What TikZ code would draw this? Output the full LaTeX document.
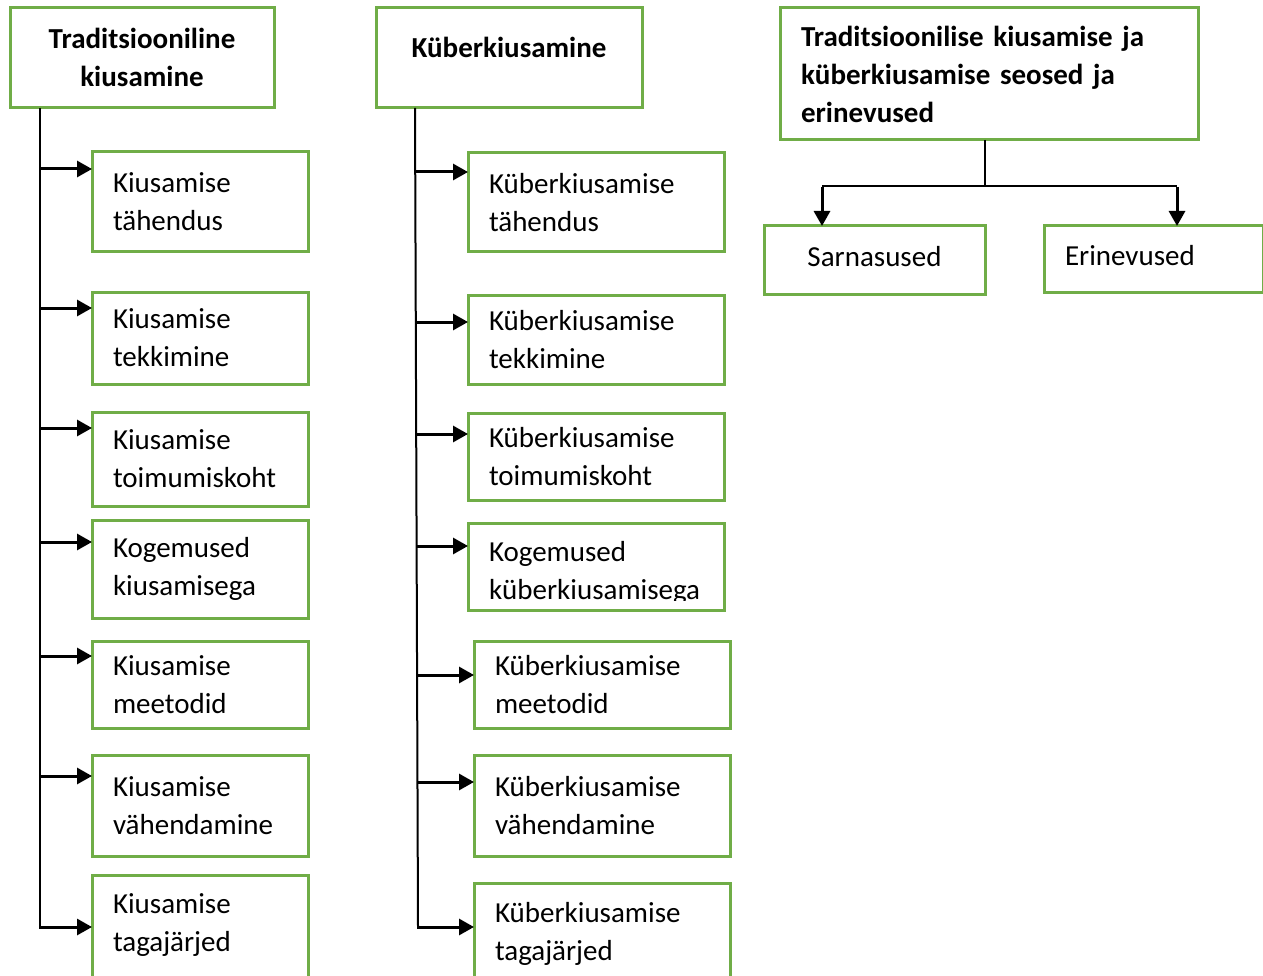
\documentclass[tikz,border=0pt]{standalone}
\usepackage{fontspec}
\setmainfont{Carlito}
\usetikzlibrary{arrows.meta}
\definecolor{boxgreen}{HTML}{70AD47}
\tikzset{
  box/.style={draw=boxgreen, line width=3pt, rectangle, inner ysep=0pt, inner xsep=21pt, outer sep=0pt,
    font=\fontsize{29}{38}\selectfont, align=left, anchor=north west},
  titlebox/.style={box, font=\bfseries\fontsize{29}{38}\selectfont},
  trunk/.style={line width=2pt, draw=black},
  arr/.style={line width=3pt, -{Triangle[length=15pt,width=16pt]}},
  darr/.style={line width=3pt, -{Triangle[length=15pt,width=16pt]}},
}
\newcommand{\bx}[7][]{% options, name, x1, y1, x2, y2, text
  \node[box, text width=#5-#3-42pt, minimum height=#6-#4, #1] (#2) at (#3,#4) {#7};}
\begin{document}
\begin{tikzpicture}[x=1pt,y=-1pt]
\useasboundingbox (0,0) rectangle (1263,976);
\fill[white] (0,0) rectangle (1263,976);

% ---------- left column ----------
\node[titlebox, align=center, text width=264-42, minimum height=100, text depth=40pt] (tL) at (10,8) {Traditsiooniline\\kiusamine};
\bx{a1}{92}{152}{308}{252}{Kiusamise\\tähendus}
\bx{a2}{92}{292}{308}{384}{Kiusamise\\tekkimine}
\bx{a3}{92}{412}{308}{506}{Kiusamise\\toimumiskoht}
\bx{a4}{92}{520}{308}{618}{Kogemused\\kiusamisega}
\bx{a5}{92}{641}{308}{728}{Kiusamise\\meetodid}
\bx{a6}{92}{755}{308}{856}{Kiusamise\\vähendamine}
\bx[text depth=58pt]{a7}{92}{875}{308}{990}{Kiusamise\\tagajärjed}

\coordinate (lt) at (40,108);
\coordinate (l1) at (40,169);
\coordinate (l2) at (40,308);
\coordinate (l3) at (40,428);
\coordinate (l4) at (40,542);
\coordinate (l5) at (40,656);
\coordinate (l6) at (40,776);
\coordinate (l7) at (40,927);
\draw[trunk] (lt) -- (l7);
\draw[arr] (l1) -- (l1 -| a1.west);
\draw[arr] (l2) -- (l2 -| a2.west);
\draw[arr] (l3) -- (l3 -| a3.west);
\draw[arr] (l4) -- (l4 -| a4.west);
\draw[arr] (l5) -- (l5 -| a5.west);
\draw[arr] (l6) -- (l6 -| a6.west);
\draw[arr] ([xshift=-1pt]l7) -- (l7 -| a7.west);

% ---------- middle column ----------
\node[titlebox, align=center, text width=266-42, minimum height=100, text depth=22pt] (tM) at (376,8) {Küberkiusamine};
\bx{b1}{468}{153}{724}{252}{Küberkiusamise\\tähendus}
\bx{b2}{468}{295}{724}{384}{Küberkiusamise\\tekkimine}
\bx{b3}{468}{413}{724}{500}{Küberkiusamise\\toimumiskoht}
\begin{scope}
\clip (466,521) rectangle (726,600);
\node[box, draw=none, text width=256-42, minimum height=96, yshift=-2pt] (b4t) at (468,523) {Kogemused\\küberkiusamisega};
\end{scope}
\node[draw=boxgreen, line width=3pt, rectangle, minimum width=256, minimum height=87, inner sep=0pt, outer sep=0pt, anchor=north west] (b4) at (468,523) {};
\bx{b5}{474}{641}{730}{728}{Küberkiusamise\\meetodid}
\bx{b6}{474}{755}{730}{856}{Küberkiusamise\\vähendamine}
\bx[text depth=48pt]{b7}{474}{883}{730}{990}{Küberkiusamise\\tagajärjed}

\coordinate (mt) at (415,108);
\coordinate (m1) at (415,172);
\coordinate (m2) at (416,322);
\coordinate (m3) at (416,434);
\coordinate (m4) at (417,546);
\coordinate (m5) at (417,675);
\coordinate (m6) at (417,782);
\coordinate (m7) at (418,927);
\draw[trunk] (mt) -- (m7);
\draw[arr] (m1) -- (m1 -| b1.west);
\draw[arr] (m2) -- (m2 -| b2.west);
\draw[arr] (m3) -- (m3 -| b3.west);
\draw[arr] (m4) -- (m4 -| b4.west);
\draw[arr] (m5) -- (m5 -| b5.west);
\draw[arr] (m6) -- (m6 -| b6.west);
\draw[arr] ([xshift=-1pt]m7) -- (m7 -| b7.west);

% ---------- right part ----------
\node[titlebox, text width=418-42, minimum height=132] (tR) at (780,8) {Traditsioonilise kiusamise ja\\küberkiusamise seosed ja\\erinevused};
\node[box, align=center, text width=221-42, minimum height=68, text depth=8pt] (s) at (764,226) {Sarnasused};
\node[box, text width=219-42, minimum height=66, text depth=8pt] (e) at (1044,226) {Erinevused};

\coordinate (rj) at (985,186);
\coordinate (rs) at (822,186);
\coordinate (re) at (1177,186);
\draw[trunk] (tR.south -| rj) -- (rj);
\draw[trunk] (rs) -- (re);
\draw[darr] ([yshift=-1pt]rs) -- (rs |- s.north);
\draw[darr] ([yshift=-1pt]re) -- (re |- e.north);
\end{tikzpicture}
\end{document}
